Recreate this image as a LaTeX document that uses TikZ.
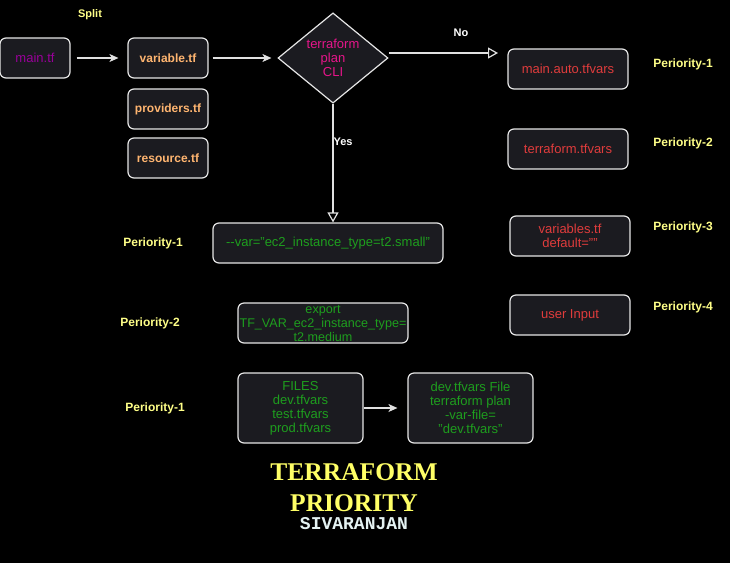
\documentclass[tikz,border=0pt]{standalone}
\usepackage{fontspec}
\setmainfont{Liberation Sans}
\newfontfamily\titlefont{Liberation Serif}
\newfontfamily\monofont{Liberation Mono}
\usetikzlibrary{shapes.geometric,arrows.meta}
\definecolor{boxfill}{HTML}{1B1B20}
\definecolor{boxline}{HTML}{E6E6E6}
\definecolor{tfpurple}{HTML}{990099}
\definecolor{tforange}{HTML}{FFB570}
\definecolor{tfmagenta}{HTML}{E6158A}
\definecolor{tfred}{HTML}{E03C3C}
\definecolor{tfgreen}{HTML}{1E9E1E}
\definecolor{tfyellow}{HTML}{FFFF88}
\definecolor{tftitle}{HTML}{FFFF66}
\definecolor{tfsig}{HTML}{E4F2F2}
\definecolor{lineclr}{HTML}{E0E0E0}
\tikzset{
  fbox/.style={draw=boxline, line width=1.2pt, fill=boxfill, rounded corners=6pt,
    minimum height=40pt, inner sep=2pt, align=center,
    font=\fontsize{13}{14}\selectfont},
  prio/.style={text=tfyellow, font=\bfseries\fontsize{12}{14}\selectfont},
  lbl/.style={text=white, font=\bfseries\fontsize{11}{13}\selectfont},
  conn/.style={draw=lineclr, line width=1.2pt},
  filledtip/.style={-{Stealth[length=9pt,width=8pt,inset=2.5pt]}},
  opentip/.style={-{Triangle[open,length=10pt,width=11pt,fill=black]}},
}
\begin{document}
\begin{tikzpicture}[x=1pt,y=-1pt]
\fill[black] (0,0) rectangle (730,563);
\useasboundingbox (0,0) rectangle (730,563);

% left column
\node[fbox, minimum width=70pt, text=tfpurple] (main) at (35,58) {main.tf};
\node[fbox, minimum width=80pt, text=tforange, font=\bfseries\fontsize{12}{14}\selectfont] (var) at (168,58) {variable.tf};
\node[fbox, minimum width=80pt, text=tforange, font=\bfseries\fontsize{12}{14}\selectfont] (prov) at (168,109) {providers.tf};
\node[fbox, minimum width=80pt, text=tforange, font=\bfseries\fontsize{12}{14}\selectfont] (res) at (168,158) {resource.tf};
\node[lbl, text=tfyellow] (split) at (90,15) {Split};

% decision
\node[diamond, draw=boxline, line width=1.2pt, fill=boxfill, inner sep=0pt,
  minimum width=110pt, minimum height=90pt, align=center, text=tfmagenta,
  font=\fontsize{13}{14}\selectfont] (dia) at (333,58) {terraform\\plan\\CLI};
\node[lbl] (no) at (461,33) {No};
\node[lbl] (yes) at (343,142) {Yes};

% right column
\node[fbox, minimum width=120pt, text=tfred] (auto) at (568,69) {main.auto.tfvars};
\node[fbox, minimum width=120pt, text=tfred] (tfv) at (568,149) {terraform.tfvars};
\node[fbox, minimum width=120pt, text=tfred] (vdef) at (570,236) {variables.tf\\default=""};
\node[fbox, minimum width=120pt, text=tfred] (user) at (570,315) {user Input};
\node[prio] (p1r) at (683,64) {Periority-1};
\node[prio] (p2r) at (683,143) {Periority-2};
\node[prio] (p3r) at (683,227) {Periority-3};
\node[prio] (p4r) at (683,307) {Periority-4};

% CLI branch
\node[fbox, minimum width=230pt, text=tfgreen] (cli) at (328,243) {-{}-var="ec2\_instance\_type=t2.small"};
\node[fbox, minimum width=170pt, inner sep=0pt, text=tfgreen, font=\fontsize{12.6}{14}\selectfont] (exp) at (323,323) {export\\TF\_VAR\_ec2\_instance\_type=\\t2.medium};
\node[fbox, minimum width=125pt, minimum height=70pt, text=tfgreen] (files) at (300.5,408) {FILES\\dev.tfvars\\test.tfvars\\prod.tfvars};
\node[fbox, minimum width=125pt, minimum height=70pt, text=tfgreen] (devf) at (470.5,408) {dev.tfvars File\\terraform plan\\-var-file=\\"dev.tfvars"};
\node[prio] (p1l) at (153,243) {Periority-1};
\node[prio] (p2l) at (150,323) {Periority-2};
\node[prio] (p1f) at (155,408) {Periority-1};

% title
\node[text=tftitle, font=\titlefont\bfseries\fontsize{25.5}{28}\selectfont] (t1) at (354,472) {TERRAFORM};
\node[text=tftitle, font=\titlefont\bfseries\fontsize{25.5}{28}\selectfont] (t2) at (354,503) {PRIORITY};
\node[text=tfsig, font=\monofont\bfseries\fontsize{18}{20}\selectfont] (t3) at (354,524) {SIVARANJAN};

% connectors
\coordinate (noend) at (498,53);
\draw[conn, filledtip, shorten <=6pt, shorten >=9pt] (main) -- (var);
\draw[conn, filledtip, shorten <=4pt, shorten >=6pt] (var) -- (dia);
\draw[conn, opentip] (dia.east |- noend) -- (noend);
\draw[conn, opentip] (dia.south) -- (cli.north -| dia.south);
\draw[conn, filledtip, shorten >=10pt] (files) -- (devf);
\end{tikzpicture}
\end{document}
